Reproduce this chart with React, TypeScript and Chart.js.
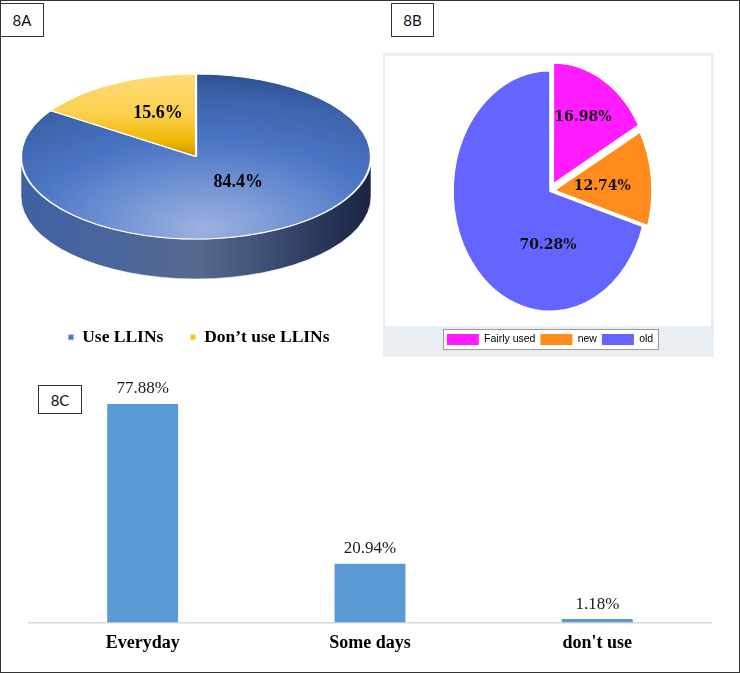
import React, { useEffect, useRef } from "react";
import { Chart, registerables } from "chart.js";
Chart.register(...registerables);

// ---------------- Data ----------------
const llinUseLabels = ["Use LLINs", "Don\u2019t use LLINs"];
const llinUseValues = [84.4, 15.6];

const netConditionLabels = ["Fairly used", "new", "old"];
const netConditionValues = [16.98, 12.74, 70.28];

const useFrequencyLabels = ["Everyday", "Some days", "don't use"];
const useFrequencyValues = [77.88, 20.94, 1.18];

const pct = (v: number, d: number) => v.toFixed(d) + "%";
const SERIF = "'Liberation Serif', 'Times New Roman', serif";
const DEG = Math.PI / 180;

// ---------------- Panel A: 3D pie ----------------
function PanelA() {
  const ref = useRef<HTMLCanvasElement>(null);
  useEffect(() => {
    const canvas = ref.current!;
    const T = { cx: 196, cy: 116.5, rx: 175, ry: 82.5, depth: 40 };
    const labelFrac = [0.4, 0.57];
    const labelShift = [-9, 5.7];

    const faceFill = (c: any) => {
      const chart = c.chart;
      const area = chart.chartArea;
      const i = c.dataIndex;
      if (!area) return i === 0 ? "#4472c4" : "#ffc000";
      const x = (area.left + area.right) / 2;
      const y = (area.top + area.bottom) / 2;
      const R = Math.min(area.width, area.height) / 2;
      const ctx = chart.ctx as CanvasRenderingContext2D;
      if (i === 0) {
        const g = ctx.createRadialGradient(x + 0.05 * R, y + 0.85 * R, 0, x + 0.05 * R, y + 0.85 * R, 1.9 * R);
        g.addColorStop(0, "#9cb2e0");
        g.addColorStop(0.3, "#6d90d2");
        g.addColorStop(0.55, "#4a75c4");
        g.addColorStop(0.82, "#3c63aa");
        g.addColorStop(1, "#2c4c8a");
        return g;
      }
      const g = ctx.createLinearGradient(0, y - R, 0, y);
      g.addColorStop(0, "#fddb78");
      g.addColorStop(0.5, "#fbd04c");
      g.addColorStop(0.82, "#f0b700");
      g.addColorStop(1, "#c49200");
      return g;
    };

    const pie3d = {
      id: "pie3dA",
      beforeDatasetsDraw(chart: any) {
        const ctx = chart.ctx as CanvasRenderingContext2D;
        const arc = chart.getDatasetMeta(0).data[0];
        const { x, y, outerRadius: R } = arc;
        // extruded side of the disk
        ctx.save();
        const g = ctx.createLinearGradient(T.cx - T.rx, 0, T.cx + T.rx, 0);
        g.addColorStop(0, "#3f61a3");
        g.addColorStop(0.25, "#49659c");
        g.addColorStop(0.5, "#566a8f");
        g.addColorStop(0.7, "#404f76");
        g.addColorStop(0.86, "#29375a");
        g.addColorStop(1, "#1a2441");
        ctx.beginPath();
        ctx.ellipse(T.cx, T.cy, T.rx, T.ry, 0, 0, Math.PI, false);
        ctx.lineTo(T.cx - T.rx, T.cy + T.depth);
        ctx.ellipse(T.cx, T.cy + T.depth, T.rx, T.ry, 0, Math.PI, 0, true);
        ctx.closePath();
        ctx.fillStyle = g;
        ctx.fill();
        ctx.strokeStyle = "rgba(255,255,255,0.6)";
        ctx.lineWidth = 1;
        ctx.stroke();
        ctx.restore();
        ctx.save();
        ctx.translate(T.cx, T.cy);
        ctx.scale(T.rx / R, T.ry / R);
        ctx.translate(-x, -y);
      },
      afterDatasetsDraw(chart: any) {
        const ctx = chart.ctx as CanvasRenderingContext2D;
        ctx.restore();
        const arcs = chart.getDatasetMeta(0).data;
        ctx.save();
        ctx.font = "bold 18px " + SERIF;
        ctx.fillStyle = "#000";
        ctx.textAlign = "center";
        ctx.textBaseline = "middle";
        arcs.forEach((arc: any, i: number) => {
          const a = (arc.startAngle + arc.endAngle) / 2 + labelShift[i] * DEG;
          ctx.fillText(
            pct(llinUseValues[i], 1),
            T.cx + Math.cos(a) * labelFrac[i] * T.rx,
            T.cy + Math.sin(a) * labelFrac[i] * T.ry
          );
        });
        ctx.restore();
      },
    };

    const legendColors = [
      { fill: "#4a76c6", stroke: "#9db4e2" },
      { fill: "#ffc000", stroke: "#ffe08a" },
    ];

    const chart = new Chart(canvas, {
      type: "pie",
      data: {
        labels: llinUseLabels,
        datasets: [
          {
            data: llinUseValues,
            backgroundColor: faceFill as any,
            borderColor: "#ffffff",
            borderWidth: 1.6,
            clip: false as any,
          },
        ],
      },
      options: {
        responsive: false,
        animation: false,
        layout: { padding: { left: 18, right: 0, top: 0, bottom: 4 } },
        plugins: {
          tooltip: { enabled: false },
          legend: {
            position: "bottom",
            labels: {
              color: "#000",
              font: { family: SERIF, size: 17.5, weight: "bold" },
              boxWidth: 5,
              boxHeight: 5,
              padding: 27,
              generateLabels: () =>
                llinUseLabels.map((t, i) => ({
                  text: t,
                  fillStyle: legendColors[i].fill,
                  strokeStyle: legendColors[i].stroke,
                  lineWidth: 1,
                  hidden: false,
                  index: i,
                })),
            },
          },
        },
      },
      plugins: [pie3d],
    });
    return () => chart.destroy();
  }, []);
  return <canvas ref={ref} width={380} height={320} style={{ position: "absolute", left: 0, top: 40 }} />;
}

// ---------------- Panel B: pie ----------------
function PanelB() {
  const ref = useRef<HTMLCanvasElement>(null);
  useEffect(() => {
    const canvas = ref.current!;
    const T = { cx: 167, cy: 138, rx: 97, ry: 120.5 };
    const labelFrac = [0.7, 0.54, 0.45];
    const labelShift = [-1.6, 1.6, -50.9];
    const colors = ["#ff1cff", "#ff8c1c", "#6464ff"];

    const frame = {
      id: "frameB",
      beforeDraw(chart: any) {
        const ctx = chart.ctx as CanvasRenderingContext2D;
        const W = chart.width;
        const H = chart.height;
        const lg = chart.legend;
        ctx.save();
        ctx.fillStyle = "#e8eef2";
        ctx.fillRect(0, 0, W, H);
        ctx.fillStyle = "#ffffff";
        ctx.fillRect(2, 3, W - 5, lg.top - 6);
        const hb = lg.legendHitBoxes || [];
        if (hb.length) {
          const l = Math.min(...hb.map((h: any) => h.left)) - 4;
          const r = Math.max(...hb.map((h: any) => h.left + h.width)) + 5;
          const t = Math.min(...hb.map((h: any) => h.top)) - 5;
          const b = Math.max(...hb.map((h: any) => h.top + h.height)) + 4;
          ctx.fillStyle = "#ffffff";
          ctx.fillRect(l, t, r - l, b - t);
          ctx.strokeStyle = "#9a9a9a";
          ctx.lineWidth = 1;
          ctx.strokeRect(Math.round(l) + 0.5, Math.round(t) + 0.5, Math.round(r - l), Math.round(b - t));
        }
        ctx.restore();
      },
      beforeDatasetsDraw(chart: any) {
        const ctx = chart.ctx as CanvasRenderingContext2D;
        const arc = chart.getDatasetMeta(0).data[0];
        const { x, y, outerRadius: R } = arc;
        ctx.save();
        ctx.translate(T.cx, T.cy);
        ctx.scale(T.rx / R, T.ry / R);
        ctx.translate(-x, -y);
      },
      afterDatasetsDraw(chart: any) {
        const ctx = chart.ctx as CanvasRenderingContext2D;
        ctx.restore();
        const arcs = chart.getDatasetMeta(0).data;
        ctx.save();
        ctx.font = "bold 14px 'DejaVu Serif', serif";
        ctx.fillStyle = "#111";
        ctx.textAlign = "center";
        ctx.textBaseline = "middle";
        arcs.forEach((arc: any, i: number) => {
          const a = (arc.startAngle + arc.endAngle) / 2 + labelShift[i] * DEG;
          ctx.fillText(
            pct(netConditionValues[i], 2),
            T.cx + Math.cos(a) * labelFrac[i] * T.rx,
            T.cy + Math.sin(a) * labelFrac[i] * T.ry
          );
        });
        ctx.restore();
      },
    };

    const chart = new Chart(canvas, {
      type: "pie",
      data: {
        labels: netConditionLabels,
        datasets: [
          {
            data: netConditionValues,
            backgroundColor: colors,
            borderColor: "#ffffff",
            borderWidth: 2,
            offset: [32, 20, 0],
            clip: false as any,
          },
        ],
      },
      options: {
        responsive: false,
        animation: false,
        layout: { padding: { left: 3, right: 0, top: 0, bottom: 2 } },
        plugins: {
          tooltip: { enabled: false },
          legend: {
            position: "bottom",
            labels: {
              color: "#333",
              font: { family: "'Liberation Sans', Arial, sans-serif", size: 10.5 },
              boxWidth: 32,
              boxHeight: 11,
              padding: 5,
              generateLabels: () =>
                netConditionLabels.map((t, i) => ({
                  text: t,
                  fillStyle: colors[i],
                  strokeStyle: colors[i],
                  lineWidth: 0,
                  hidden: false,
                  index: i,
                })),
            },
          },
        },
      },
      plugins: [frame],
    });
    return () => chart.destroy();
  }, []);
  return <canvas ref={ref} width={331} height={304} style={{ position: "absolute", left: 383, top: 53 }} />;
}

// ---------------- Panel C: bars ----------------
function PanelC() {
  const ref = useRef<HTMLCanvasElement>(null);
  useEffect(() => {
    const canvas = ref.current!;
    const valueLabels = {
      id: "valueLabelsC",
      afterDatasetsDraw(chart: any) {
        const ctx = chart.ctx as CanvasRenderingContext2D;
        const bars = chart.getDatasetMeta(0).data;
        ctx.save();
        ctx.font = "17px " + SERIF;
        ctx.fillStyle = "#1a1a1a";
        ctx.textAlign = "center";
        ctx.textBaseline = "middle";
        bars.forEach((b: any, i: number) => {
          ctx.fillText(pct(useFrequencyValues[i], 2), b.x, b.y - 15);
        });
        ctx.restore();
      },
    };
    const chart = new Chart(canvas, {
      type: "bar",
      data: {
        labels: useFrequencyLabels,
        datasets: [
          {
            data: useFrequencyValues,
            backgroundColor: "#5b9bd5",
            categoryPercentage: 1,
            barPercentage: 0.312,
          },
        ],
      },
      options: {
        responsive: false,
        animation: false,
        layout: { padding: { left: 29, right: 29, top: 10, bottom: 8 } },
        scales: {
          x: {
            grid: { display: false, drawTicks: false },
            border: { display: true, color: "#d9d9d9", width: 1.5 },
            ticks: { color: "#000", font: { family: SERIF, size: 18, weight: "bold" }, padding: 10 },
          },
          y: { display: false, min: 0, max: 90 },
        },
        plugins: { legend: { display: false }, tooltip: { enabled: false } },
      },
      plugins: [valueLabels],
    });
    return () => chart.destroy();
  }, []);
  return <canvas ref={ref} width={740} height={312} style={{ position: "absolute", left: 0, top: 360 }} />;
}

const boxStyle = (left: number, top: number, w: number, h: number): React.CSSProperties => ({
  position: "absolute",
  left,
  top,
  width: w,
  height: h,
  boxSizing: "border-box",
  border: "1px solid #333",
  background: "#fff",
  display: "flex",
  alignItems: "center",
  justifyContent: "center",
  fontFamily: "Lato, 'Open Sans', sans-serif",
  fontSize: 15,
  color: "#111",
});

export default function App() {
  return (
    <div style={{ position: "absolute", left: 0, top: 0, width: 740, height: 673, background: "#fff", overflow: "hidden" }}>
      <PanelA />
      <PanelB />
      <PanelC />
      <div style={boxStyle(0, 3, 44, 34)}>8A</div>
      <div style={boxStyle(391, 3, 43, 34)}>8B</div>
      <div style={boxStyle(38, 385, 44, 29)}>8C</div>
      <div
        style={{
          position: "absolute",
          left: 0,
          top: 0,
          width: 740,
          height: 673,
          boxSizing: "border-box",
          border: "1px solid #333",
          pointerEvents: "none",
        }}
      />
    </div>
  );
}
